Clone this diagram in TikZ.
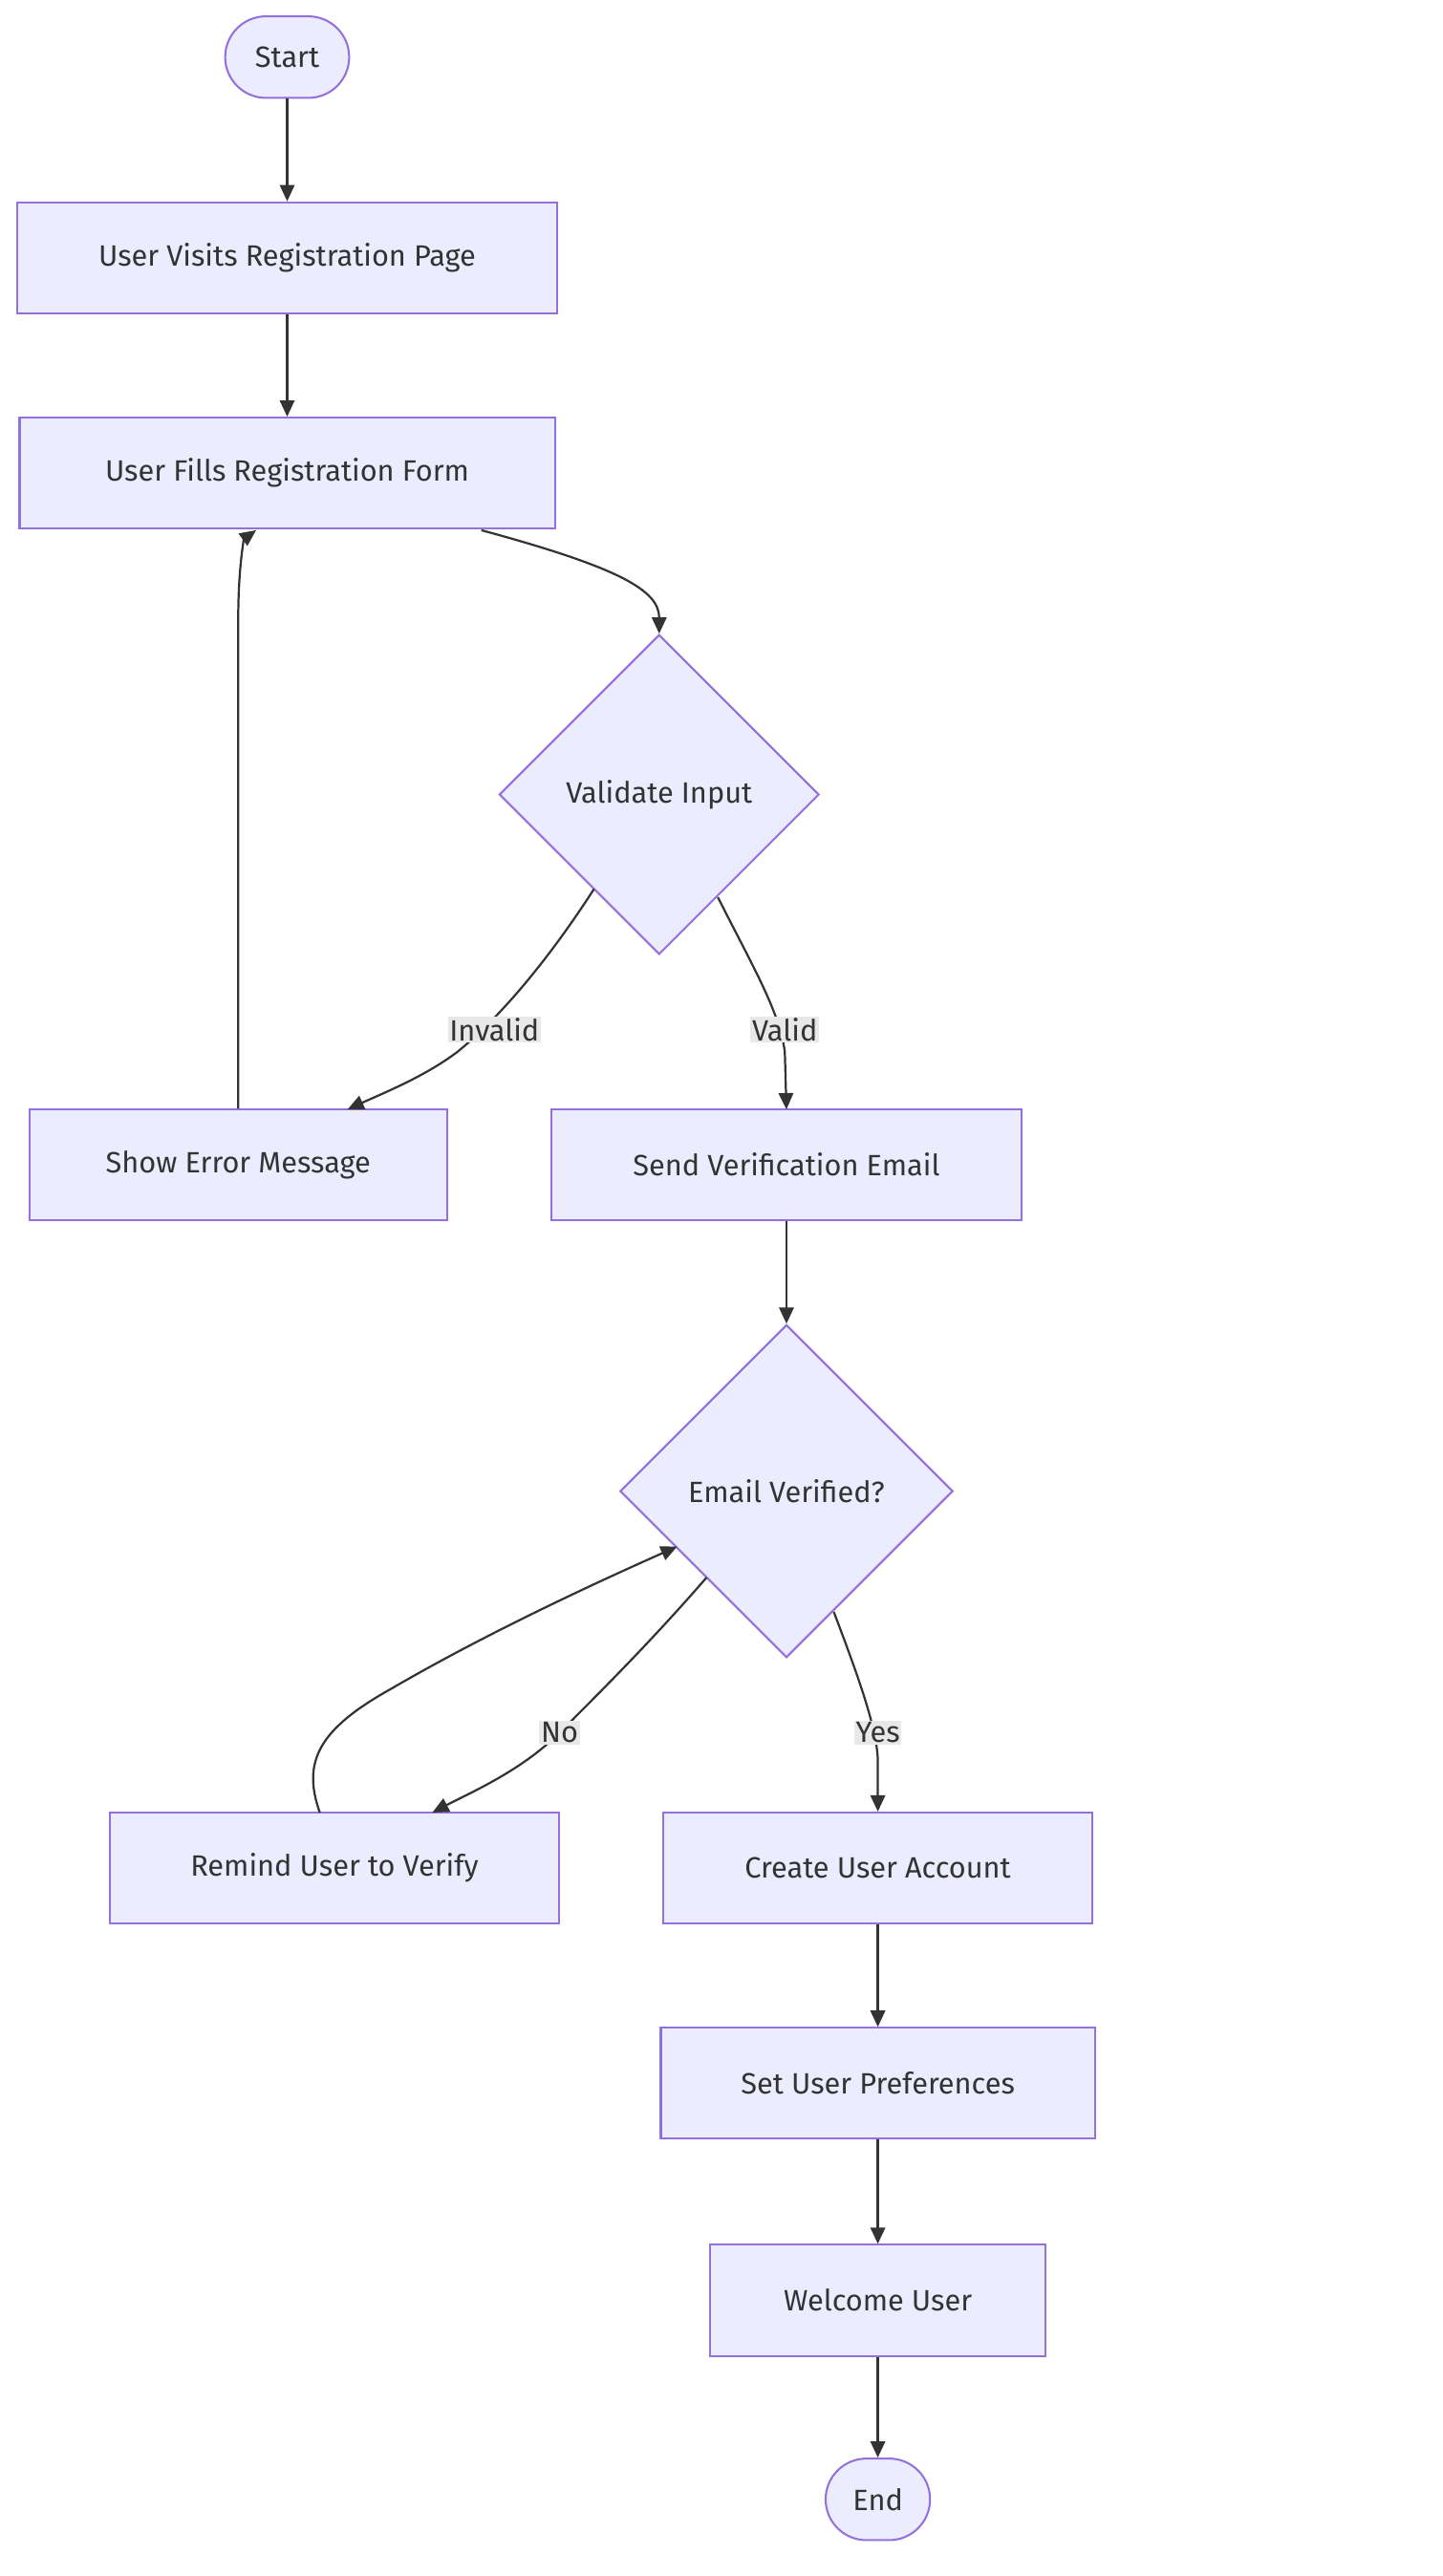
\documentclass[tikz,border=0pt]{standalone}
\usepackage{fontspec}
\setmainfont{Fira Sans}
\usetikzlibrary{shapes.geometric,arrows.meta}
\definecolor{nfill}{HTML}{ECECFF}
\definecolor{nline}{HTML}{9370DB}
\definecolor{eline}{HTML}{333333}
\definecolor{lbg}{HTML}{E8E8E8}
\begin{document}
\begin{tikzpicture}[x=1pt,y=-1pt,
  every node/.style={font=\fontsize{18}{22}\selectfont, text=eline},
  box/.style={draw=nline, fill=nfill, line width=1.2pt, minimum height=68pt, inner sep=0pt},
  term/.style={box, rounded corners=25pt, minimum height=50pt},
  dia/.style={draw=nline, fill=nfill, line width=1.2pt, diamond, aspect=1, inner sep=0pt},
  arr/.style={draw=eline, line width=1.3pt, -{Triangle[length=10pt,width=9pt]}},
  lbl/.style={fill=lbg, inner sep=1pt}]
\useasboundingbox (0,0) rectangle (884,1579);
\node[term, minimum width=76pt] (start) at (176,35) {Start};
\node[box, minimum width=331pt] (visit) at (176,158) {User Visits Registration Page};
\node[box, minimum width=328pt] (fill) at (176,290) {User Fills Registration Form};
\node[dia, minimum width=196pt, minimum height=196pt] (val) at (404,487) {Validate Input};
\node[box, minimum width=256pt] (err) at (146,714) {Show Error Message};
\node[box, minimum width=288pt] (send) at (482,714) {Send Verification Email};
\node[dia, minimum width=204pt, minimum height=204pt] (ver) at (482,914) {Email Verified?};
\node[box, minimum width=275pt] (rem) at (205,1145) {Remind User to Verify};
\node[box, minimum width=263pt] (acc) at (538,1145) {Create User Account};
\node[box, minimum width=266pt] (pref) at (538,1277) {Set User Preferences};
\node[box, minimum width=206pt] (wel) at (538,1410) {Welcome User};
\node[term, minimum width=64pt] (end) at (538,1532) {End};

\draw[arr] (start) -- (visit);
\draw[arr] (visit) -- (fill);
\draw[arr] (295,325) .. controls (380,348) and (404,362) .. (val.north);
\draw[arr] (364,545) .. controls (335,590) and (305,625) .. (280,645) .. controls (260,660) and (235,670) .. (213,680);
\node[lbl] at (303,631) {Invalid};
\draw[arr] (440,550) .. controls (460,590) and (478,620) .. (481,645) -- (482,680);
\node[lbl] at (481,631) {Valid};
\draw[arr] (err.north -| 146,0) -- (146,380) .. controls (146,345) and (150,330) .. (157,325);
\draw[arr] (send) -- (ver);
\draw[arr] (433,967) .. controls (400,1005) and (370,1035) .. (343,1062) .. controls (320,1085) and (290,1098) .. (265,1111);
\node[lbl] at (343,1062) {No};
\draw[arr] (196,1111) .. controls (185,1080) and (195,1060) .. (240,1035) .. controls (300,1000) and (370,968) .. (415,948);
\draw[arr] (511,988) .. controls (525,1025) and (538,1060) .. (538,1080) -- (acc.north);
\node[lbl] at (538,1062) {Yes};
\draw[arr] (acc) -- (pref);
\draw[arr] (pref) -- (wel);
\draw[arr] (wel) -- (end);
\end{tikzpicture}
\end{document}
